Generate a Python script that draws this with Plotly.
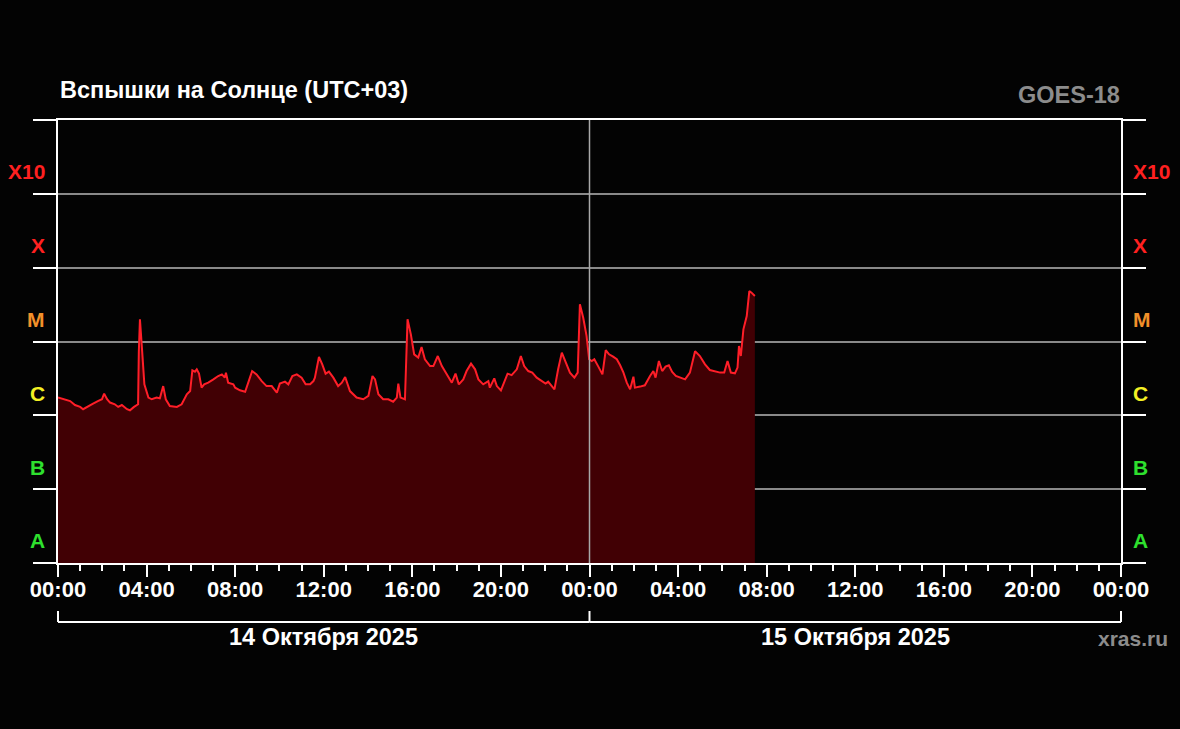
import pandas as pd
import plotly.graph_objects as go

# ---------------- data ----------------
# minutes since 2025-10-14 00:00 (UTC+03)
minutes = [0, 19, 33, 46, 60, 68, 81, 95, 108, 119,
           125, 133, 141, 154, 163, 173, 187, 195, 206, 217,
           219, 222, 228, 234, 245, 254, 267, 276, 285, 292,
           303, 322, 335, 349, 358, 364, 371, 376, 382, 389,
           396, 407, 421, 434, 444, 452, 455, 461, 475, 480,
           493, 507, 520, 526, 538, 552, 565, 579, 593, 601,
           615, 624, 635, 647, 660, 671, 683, 692, 696, 707,
           716, 725, 734, 746, 759, 769, 778, 791, 809, 827,
           841, 852, 859, 868, 881, 895, 908, 918, 922, 928,
           940, 945, 947, 956, 965, 976, 985, 994, 1008, 1017,
           1029, 1040, 1053, 1067, 1077, 1086, 1098, 1107, 1119, 1130,
           1139, 1152, 1166, 1170, 1182, 1189, 1200, 1209, 1218, 1229,
           1243, 1254, 1263, 1274, 1285, 1297, 1310, 1321, 1328, 1345,
           1355, 1365, 1376, 1387, 1399, 1408, 1414, 1423, 1432, 1439,
           1446, 1453, 1464, 1475, 1484, 1493, 1504, 1514, 1523, 1532,
           1541, 1550, 1559, 1563, 1577, 1590, 1604, 1613, 1619, 1628,
           1637, 1646, 1655, 1664, 1674, 1685, 1699, 1712, 1726, 1739,
           1753, 1766, 1780, 1794, 1805, 1814, 1823, 1834, 1841, 1845,
           1850, 1857, 1866, 1873, 1879, 1888]

# X-ray flux in units of 1e-6 W/m^2
flux_uW = [1.74, 1.65, 1.56, 1.38, 1.30, 1.21, 1.30, 1.44, 1.56, 1.65,
           1.97, 1.65, 1.49, 1.41, 1.30, 1.38, 1.21, 1.17, 1.30, 1.41,
           7.4, 20.0, 7.4, 2.63, 1.74, 1.65, 1.74, 1.70, 2.49, 1.65,
           1.34, 1.30, 1.41, 1.93, 2.13, 4.07, 3.9, 4.2, 3.67, 2.37,
           2.63, 2.77, 3.07, 3.41, 3.59, 3.24, 3.79, 2.77, 2.63, 2.37,
           2.18, 2.09, 3.24, 3.98, 3.59, 2.91, 2.49, 2.49, 2.03, 2.69,
           2.86, 2.63, 3.41, 3.59, 3.24, 2.63, 2.63, 2.91, 3.24, 6.16,
           4.91, 3.67, 3.91, 3.24, 2.49, 2.77, 3.30, 2.13, 1.74, 1.65,
           1.83, 3.41, 3.07, 1.93, 1.65, 1.65, 1.53, 1.74, 2.69, 1.74,
           1.65, 7.4, 20.0, 12.5, 6.70, 6.05, 8.42, 5.74, 4.65, 4.65,
           6.36, 4.65, 3.59, 2.77, 3.67, 2.63, 3.07, 3.98, 5.01, 4.2,
           3.07, 2.63, 2.91, 2.37, 3.17, 2.49, 2.18, 2.91, 3.67, 3.51,
           4.2, 6.36, 4.65, 3.98, 3.79, 3.24, 2.91, 2.69, 2.86, 2.25,
           4.2, 7.07, 5.17, 3.79, 3.24, 3.79, 31.9, 21.0, 11.9, 5.74,
           5.44, 5.74, 4.57, 3.59, 7.66, 6.70, 6.24, 5.74, 4.76, 3.79,
           2.77, 2.25, 3.34, 2.37, 2.45, 2.55, 3.41, 3.98, 3.24, 5.44,
           3.98, 4.57, 4.76, 3.86, 3.41, 3.24, 3.07, 3.79, 7.4, 6.36,
           4.91, 4.11, 3.98, 3.79, 3.79, 5.44, 3.79, 3.71, 4.43, 8.68,
           6.36, 14.6, 22.1, 48.3, 45.9, 41.3]

start_time = "2025-10-14 00:00"
end_time = "2025-10-16 00:00"
day_starts = ["2025-10-14 00:00", "2025-10-15 00:00", "2025-10-16 00:00"]
day_labels = ["14 Октября 2025", "15 Октября 2025"]

tick_hours = [0, 4, 8, 12, 16, 20, 24, 28, 32, 36, 40, 44, 48]
tick_labels = ["00:00", "04:00", "08:00", "12:00", "16:00", "20:00",
               "00:00", "04:00", "08:00", "12:00", "16:00", "20:00", "00:00"]

class_names = ["A", "B", "C", "M", "X", "X10"]
class_levels = [1e-8, 1e-7, 1e-6, 1e-5, 1e-4, 1e-3, 1e-2]
class_colors = ["#2ee02e", "#2ee02e", "#f4f024", "#f2902a", "#ff2020", "#ff2020"]

title_text = "Вспышки на Солнце (UTC+03)"
satellite = "GOES-18"
source = "xras.ru"

# ---------------- build ----------------
t0 = pd.Timestamp(start_time)
t1 = pd.Timestamp(end_time)
times = [t0 + pd.Timedelta(minutes=m) for m in minutes]
flux = [v * 1e-6 for v in flux_uW]
tickvals = [t0 + pd.Timedelta(hours=h) for h in tick_hours]

FONT = "Liberation Sans, Arial, sans-serif"
BG = "#030303"

fig = go.Figure()
fig.add_trace(go.Scatter(x=times, y=[class_levels[0]] * len(times), mode="lines",
                         line=dict(width=0, color="rgba(0,0,0,0)"),
                         hoverinfo="skip", showlegend=False))
fig.add_trace(go.Scatter(x=times, y=flux, mode="lines",
                         line=dict(color="#ff1e28", width=2),
                         fill="tonexty", fillcolor="#410004",
                         showlegend=False))

# plot geometry in pixels
W, H = 1180, 729
L, R, T, B = 58, 59, 120, 166
ph = H - T - B
pw = W - L - R


def py(pix):
    return (H - B - pix) / ph


def px(pix):
    return (pix - L) / pw


def frac(ts):
    return (pd.Timestamp(ts) - t0) / (t1 - t0)


shapes = []
# midnight separator
shapes.append(dict(type="line", xref="x", yref="paper",
                   x0=pd.Timestamp(day_starts[1]), x1=pd.Timestamp(day_starts[1]),
                   y0=0, y1=1, line=dict(color="#a8a8a8", width=1.5), layer="above"))
# date brackets
yb, yt = py(622), py(611)
for i in range(len(day_labels)):
    xa, xb = frac(day_starts[i]), frac(day_starts[i + 1])
    shapes.append(dict(type="line", xref="paper", yref="paper", x0=xa, x1=xb, y0=yb, y1=yb,
                       line=dict(color="white", width=2)))
for d in day_starts:
    xa = frac(d)
    shapes.append(dict(type="line", xref="paper", yref="paper", x0=xa, x1=xa, y0=yb, y1=yt,
                       line=dict(color="white", width=2)))

annotations = []
annotations.append(dict(text=title_text, xref="paper", yref="paper", x=0, y=py(90),
                        xanchor="left", yanchor="middle", showarrow=False,
                        font=dict(family=FONT, size=23.5, color="white", weight="bold")))
annotations.append(dict(text=satellite, xref="paper", yref="paper", x=px(1122), y=py(95),
                        xanchor="right", yanchor="middle", showarrow=False,
                        font=dict(family=FONT, size=23.5, color="#8c8c8c", weight="bold")))
annotations.append(dict(text=source, xref="paper", yref="paper", x=px(1133), y=py(638),
                        xanchor="center", yanchor="middle", showarrow=False,
                        font=dict(family=FONT, size=21, color="#8c8c8c", weight="bold")))
for i, lab in enumerate(day_labels):
    xc = (frac(day_starts[i]) + frac(day_starts[i + 1])) / 2
    annotations.append(dict(text=lab, xref="paper", yref="paper", x=xc, y=py(637),
                            xanchor="center", yanchor="middle", showarrow=False,
                            font=dict(family=FONT, size=23.5, color="white", weight="bold")))
for k, (name, col) in enumerate(zip(class_names, class_colors)):
    yy = (k + 0.3) / len(class_names)
    for xx, anc in [(px(47), "right"), (px(1131), "left")]:
        annotations.append(dict(text=name, xref="paper", yref="paper", x=xx, y=yy,
                                xanchor=anc, yanchor="middle", showarrow=False,
                                font=dict(family=FONT, size=21, color=col, weight="bold")))

fig.update_layout(
    width=W, height=H,
    margin=dict(l=L, r=R, t=T, b=B, pad=0),
    paper_bgcolor=BG, plot_bgcolor=BG,
    shapes=shapes, annotations=annotations,
    showlegend=False,
    xaxis=dict(type="date", range=[t0, t1],
               tickmode="array", tickvals=tickvals, ticktext=tick_labels,
               ticks="outside", ticklen=12, tickwidth=2, tickcolor="white",
               ticklabelstandoff=-6,
               showline=True, linecolor="white", linewidth=2, mirror=True,
               showgrid=False, zeroline=False,
               tickfont=dict(family=FONT, size=22, color="white", weight="bold"),
               minor=dict(dtick=3600000, tick0=t0, ticks="outside", ticklen=6,
                          tickwidth=1.5, tickcolor="white", showgrid=False)),
    yaxis=dict(type="log", range=[-8, -2], tickmode="array", tickvals=class_levels,
               showticklabels=False, ticks="outside", ticklen=23, tickwidth=2,
               tickcolor="white", showline=True, linecolor="white", linewidth=2,
               mirror="ticks", showgrid=True, gridcolor="#8a8a8a", gridwidth=1.5,
               zeroline=False),
)

fig.write_html(
    "out.html",
    config={"displayModeBar": False},
    post_script=("document.body.style.margin='0';"
                 "document.body.style.background='" + BG + "';"
                 "document.body.style.overflow='hidden';"),
)
